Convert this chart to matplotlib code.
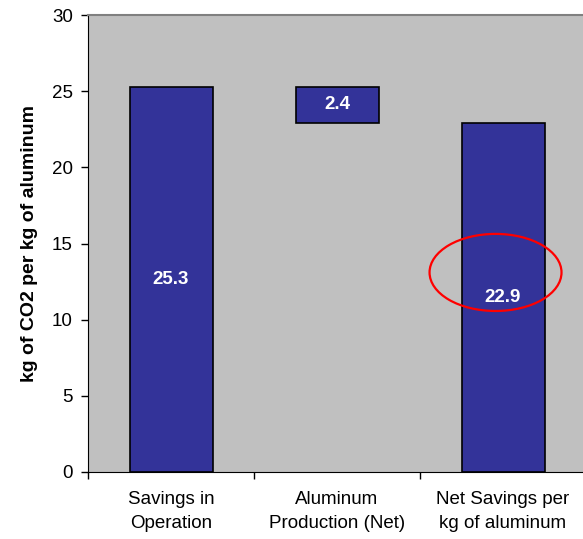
import matplotlib
matplotlib.use("Agg")
import matplotlib.pyplot as plt
from matplotlib.patches import Ellipse

plt.rcParams['font.family'] = ['Liberation Sans', 'DejaVu Sans']

categories = ["Savings in\nOperation", "Aluminum\nProduction (Net)", "Net Savings per\nkg of aluminum"]
bar_tops = [25.3, 25.3, 22.9]
bar_bottoms = [0.0, 22.9, 0.0]
bar_labels = ["25.3", "2.4", "22.9"]
y_ticks = [0, 5, 10, 15, 20, 25, 30]

fig = plt.figure(figsize=(5.83, 5.39), dpi=100)
ax = fig.add_axes([88 / 583, 1 - 472 / 539, 498 / 583, (472 - 15) / 539])
ax.set_facecolor('#C0C0C0')

x = list(range(len(categories)))
heights = [t - b for t, b in zip(bar_tops, bar_bottoms)]
ax.bar(x, heights, bottom=bar_bottoms, width=0.5, color='#333399',
       edgecolor='black', linewidth=1.2, zorder=3)

for xi, b, h, lab in zip(x, bar_bottoms, heights, bar_labels):
    ax.text(xi, b + h / 2, lab, ha='center', va='center', color='white',
            fontsize=13.5, fontweight='bold', zorder=4)

# highlight around the net savings figure
ax.add_patch(Ellipse((1.955, 13.1), 0.795, 5.06, fill=False,
                     edgecolor='#FF0000', linewidth=1.6, zorder=5))

ax.set_xlim(-0.5, 2.5)
ax.set_ylim(0, 30)
ax.set_yticks(y_ticks)
ax.tick_params(axis='y', labelsize=13.5, length=5, width=1, direction='out', pad=6)

# category labels centred, ticks at category boundaries
ax.set_xticks([-0.5, 0.5, 1.5])
ax.set_xticklabels([])
ax.set_xticks(x, minor=True)
ax.set_xticklabels(categories, minor=True, fontsize=13.5, linespacing=1.5)
ax.tick_params(axis='x', which='major', length=5, width=1, direction='out')
ax.tick_params(axis='x', which='minor', length=0, pad=14)

ax.spines['right'].set_visible(False)
ax.spines['top'].set_color('#808080')
ax.spines['top'].set_linewidth(1.5)
ax.spines['left'].set_color('black')
ax.spines['bottom'].set_color('black')

ax.set_ylabel("kg of CO2 per kg of aluminum", fontsize=14, fontweight='bold', labelpad=10)

fig.savefig("out.png", dpi=100)
